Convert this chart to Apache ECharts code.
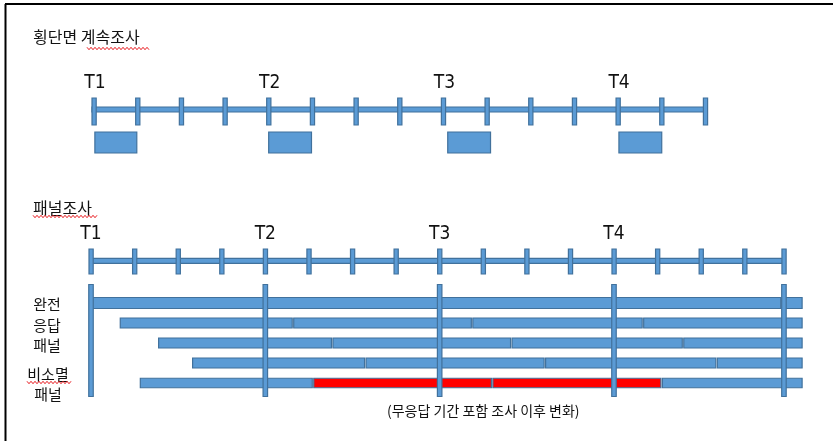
<!DOCTYPE html>
<html><head><meta charset="utf-8">
<style>html,body{margin:0;padding:0;background:#fff}#c{width:833px;height:441px}</style>
<script src="https://cdn.jsdelivr.net/npm/echarts@6/dist/echarts.min.js"></script>
</head><body><div id="c"></div>
<script>
// ---- data ----
const periods = ['T1', 'T2', 'T3', 'T4'];
const periodAt = [0, 4, 8, 12];
const crossTicks = [0, 1, 2, 3, 4, 5, 6, 7, 8, 9, 10, 11, 12, 13, 14];
const crossWaves = [[0.02, 0.98], [4, 4.98], [8.1, 9.08], [12.02, 13]];
const panelTicks = [0, 1, 2, 3, 4, 5, 6, 7, 8, 9, 10, 11, 12, 13, 14, 15, 15.9];
const panelMarkers = [0, 4, 8, 12, 15.9];
const panelRows = ['완전응답 1', '완전응답 2', '완전응답 3', '완전응답 4', '비소멸'];
// [row, start, end, status] status 0 = responded, 1 = period including nonresponse
const panelSegments = [
  [0, 0, 15.85, 0], [0, 15.85, 16.34, 0],
  [1, 0.66, 4.64, 0], [1, 4.64, 8.75, 0], [1, 8.75, 12.67, 0], [1, 12.67, 16.34, 0],
  [2, 1.54, 5.54, 0], [2, 5.54, 9.65, 0], [2, 9.65, 13.59, 0], [2, 13.59, 16.34, 0],
  [3, 2.32, 6.30, 0], [3, 6.30, 10.42, 0], [3, 10.42, 14.36, 0], [3, 14.36, 16.34, 0],
  [4, 1.12, 5.10, 0], [4, 5.10, 9.21, 1], [4, 9.21, 13.10, 1], [4, 13.10, 16.34, 0]
];

// ---- styles / layout ----
const BLUE = '#5B9BD5', EDGE = '#41719C', RED = '#FF0000', INK = '#111';
const KR = '"Noto Sans CJK KR", sans-serif';
const TF = '"Liberation Sans Narrow", "DejaVu Sans Condensed", "Liberation Sans", sans-serif';
function box(x, y, w, h, fill) {
  return { type: 'rect', shape: { x: x, y: y, width: w, height: h },
    style: { fill: fill || BLUE, stroke: EDGE, lineWidth: 1.2 } };
}

const chart = echarts.init(document.getElementById('c'), null, { renderer: 'canvas' });

function wave(x1, x2, y) {
  const pts = []; let up = true;
  for (let x = x1; x <= x2; x += 2) { pts.push([x, y + (up ? -1.2 : 1.2)]); up = !up; }
  return { type: 'polyline', shape: { points: pts }, style: { stroke: '#E8191E', lineWidth: 1, fill: null }, silent: true };
}

const option = {
  animation: false,
  backgroundColor: '#fff',
  grid: [
    { left: 94, width: 611.4, top: 70, height: 90 },
    { left: 91, width: 697.3, top: 293, height: 100 }
  ],
  xAxis: [
    { gridIndex: 0, type: 'value', min: 0, max: 14, show: false },
    { gridIndex: 1, type: 'value', min: 0, max: 16, show: false }
  ],
  yAxis: [
    { gridIndex: 0, type: 'value', min: 0, max: 1, show: false },
    { gridIndex: 1, type: 'category', data: panelRows, inverse: true, show: false }
  ],
  series: [
    // top timeline bar
    { type: 'custom', xAxisIndex: 0, yAxisIndex: 0, data: [[0, 14]],
      renderItem: (p, api) => {
        const a = api.coord([api.value(0), 0])[0], b = api.coord([api.value(1), 0])[0];
        return box(a - 2, 107, b - a + 2, 5);
      } },
    // top ticks
    { type: 'custom', xAxisIndex: 0, yAxisIndex: 0, data: crossTicks.map(v => [v]),
      renderItem: (p, api) => {
        const x = api.coord([api.value(0), 0])[0];
        return box(x - 2, 98, 4.2, 27);
      } },
    // top survey boxes
    { type: 'custom', xAxisIndex: 0, yAxisIndex: 0, data: crossWaves,
      renderItem: (p, api) => {
        const a = api.coord([api.value(0), 0])[0], b = api.coord([api.value(1), 0])[0];
        return box(a, 132, b - a, 21);
      } },
    // top period labels
    { type: 'custom', xAxisIndex: 0, yAxisIndex: 0, data: periodAt.map((v, i) => [v, i]),
      renderItem: (p, api) => {
        const x = api.coord([api.value(0), 0])[0];
        return { type: 'text', style: { text: periods[api.value(1)], x: x + 1, y: 83.5,
          align: 'center', verticalAlign: 'middle', font: '19px ' + TF, fill: INK } };
      } },
    // bottom timeline bar
    { type: 'custom', xAxisIndex: 1, yAxisIndex: 1, data: [[0, 15.9]],
      renderItem: (p, api) => {
        const a = api.coord([api.value(0), 0])[0], b = api.coord([api.value(1), 0])[0];
        return box(a, 258.3, b - a, 5);
      } },
    // bottom ticks
    { type: 'custom', xAxisIndex: 1, yAxisIndex: 1, data: panelTicks.map(v => [v]),
      renderItem: (p, api) => {
        const x = api.coord([api.value(0), 0])[0];
        return box(x - 2, 249, 4.2, 25);
      } },
    // bottom period labels
    { type: 'custom', xAxisIndex: 1, yAxisIndex: 1, data: periodAt.map((v, i) => [v, i]),
      renderItem: (p, api) => {
        const x = api.coord([api.value(0), 0])[0];
        return { type: 'text', style: { text: periods[api.value(1)], x: x, y: 234.5,
          align: 'center', verticalAlign: 'middle', font: '19px ' + TF, fill: INK } };
      } },
    // panel segments
    { type: 'custom', xAxisIndex: 1, yAxisIndex: 1, data: panelSegments,
      encode: { x: [1, 2], y: 0 },
      renderItem: (p, api) => {
        const r = api.value(0);
        const a = api.coord([api.value(1), r]), b = api.coord([api.value(2), r]);
        const h = r === 0 ? 11 : (r === 4 ? 9.5 : 10);
        return box(a[0] + 0.5, a[1] - h / 2, b[0] - a[0] - 1.5, h, api.value(3) === 1 ? RED : BLUE);
      } },
    // vertical markers
    { type: 'custom', xAxisIndex: 1, yAxisIndex: 1, data: panelMarkers.map(v => [v]),
      renderItem: (p, api) => {
        const x = api.coord([api.value(0), 0])[0];
        return box(x - 2.25, 284.5, 4.5, 112);
      } }
  ],
  graphic: [
    { type: 'line', shape: { x1: 5, y1: 4, x2: 833, y2: 4 }, style: { stroke: '#000', lineWidth: 2 }, silent: true },
    { type: 'line', shape: { x1: 5.5, y1: 4, x2: 5.5, y2: 441 }, style: { stroke: '#000', lineWidth: 2 }, silent: true },
    { type: 'text', x: 33, y: 37, style: { text: '횡단면 계속조사', font: '16px ' + KR, fill: INK, verticalAlign: 'middle' }, silent: true },
    { type: 'text', x: 33, y: 208, style: { text: '패널조사', font: '16px ' + KR, fill: INK, verticalAlign: 'middle' }, silent: true },
    { type: 'text', x: 47, y: 325, style: { text: '완전\n응답\n패널', font: '15px ' + KR, lineHeight: 20.5, fill: INK, align: 'center', verticalAlign: 'middle' }, silent: true },
    { type: 'text', x: 48, y: 384.5, style: { text: '비소멸\n패널', font: '15px ' + KR, lineHeight: 20, fill: INK, align: 'center', verticalAlign: 'middle' }, silent: true },
    { type: 'text', x: 387, y: 411, style: { text: '(무응답 기간 포함 조사 이후 변화)', font: '14px ' + KR, fill: INK, verticalAlign: 'middle' }, silent: true },
    wave(87, 150, 48.5),
    wave(33, 97, 216.5),
    wave(27, 71, 382.5)
  ]
};
chart.setOption(option);
</script>
</body></html>
